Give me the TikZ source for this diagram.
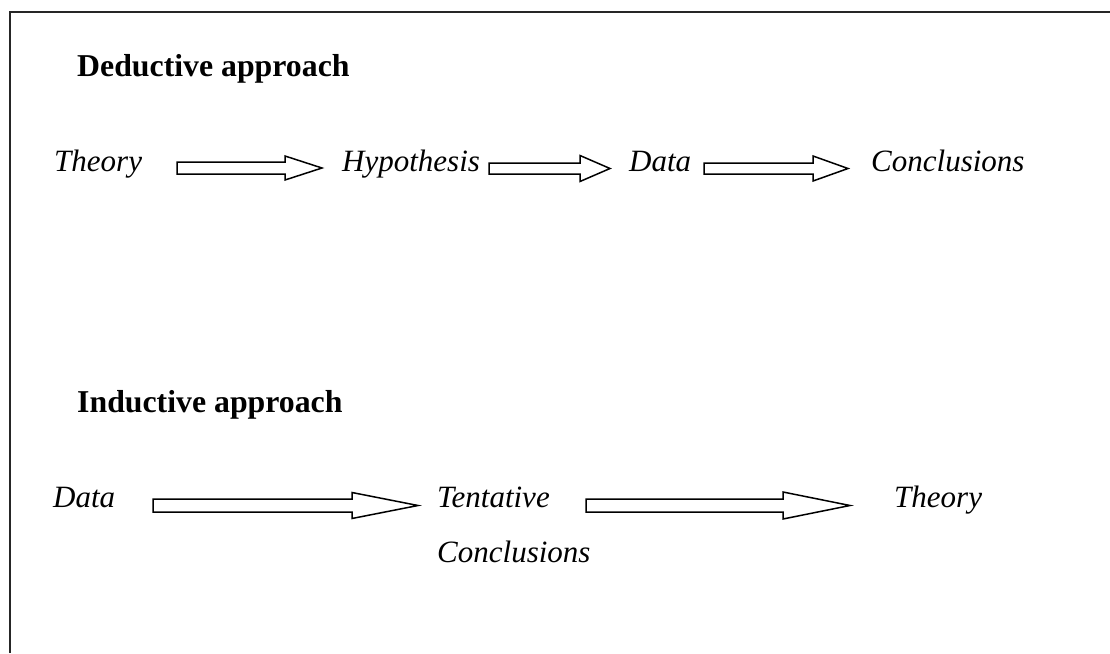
\documentclass[tikz,border=0pt]{standalone}
\usepackage{fontspec}
\setmainfont{Liberation Serif}
\newcommand\blockarr[6]{%
  \draw[barrow] (#1,{#4-#5}) -- (#2,{#4-#5}) -- (#2,{#4-#6}) -- (#3,#4)
    -- (#2,{#4+#6}) -- (#2,{#4+#5}) -- (#1,{#4+#5}) -- cycle;}
\begin{document}
\begin{tikzpicture}[x=1pt,y=-1pt,
  lbl/.style={anchor=base west, inner sep=0pt, font=\fontsize{31}{37}\selectfont\itshape},
  headtxt/.style={anchor=base west, inner sep=0pt, font=\fontsize{31.8}{38}\selectfont\bfseries},
  barrow/.style={draw=black, line width=1.5pt, fill=white, line join=miter},
  frame/.style={line width=2pt, draw=black!85}]
\useasboundingbox (0,0) rectangle (1110,653);
\draw[frame] (9.5,653) -- (9.5,11.5) -- (1110,11.5);
% Deductive
\node[headtxt] (dh) at (77,76) {Deductive approach};
\node[lbl] (t1) at (54,171) {Theory};
\node[lbl] (h1) at (342,171) {Hypothesis};
\node[lbl] (d1) at (629,171) {Data};
\node[lbl] (c1) at (871,171) {Conclusions};
\blockarr{177}{285}{322}{168}{6}{12}
\blockarr{489}{580}{610}{168.5}{5.5}{13}
\blockarr{704}{813}{848}{168.5}{5.5}{12.5}
% Inductive
\node[headtxt] (ih) at (77,412) {Inductive approach};
\node[lbl] (d2) at (53,507) {Data};
\node[lbl] (t2) at (437,507) {Tentative};
\node[lbl] (c2) at (437,562) {Conclusions};
\node[lbl] (th2) at (894,507) {Theory};
\blockarr{153}{352}{418}{505.5}{6.5}{13}
\blockarr{586}{783}{850}{505.5}{6.5}{13.5}
\end{tikzpicture}
\end{document}
